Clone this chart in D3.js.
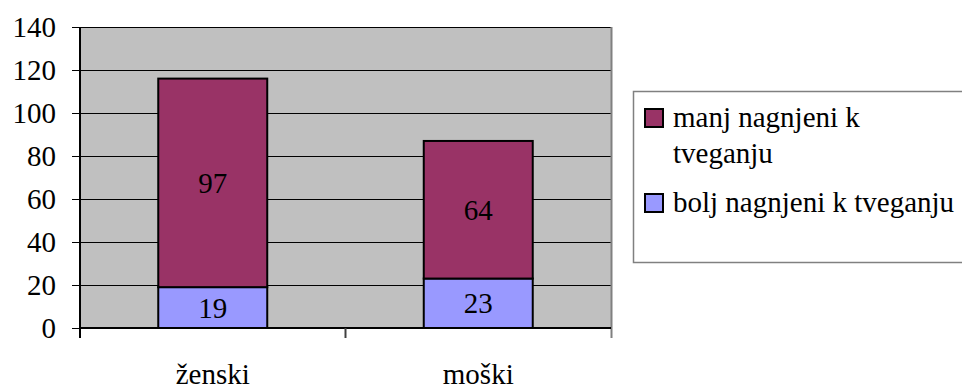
<!DOCTYPE html>
<html>
<head>
<meta charset="utf-8">
<script src="https://cdn.jsdelivr.net/npm/d3@7"></script>
<style>
  html, body { margin: 0; padding: 0; background: #fff; }
  svg { display: block; }
</style>
</head>
<body>
<svg id="chart" width="962" height="390" font-family="Liberation Serif"></svg>
<script>
// Data
const categories = ["ženski", "moški"];
const seriesNames = ["bolj nagnjeni k tveganju", "manj nagnjeni k tveganju"];
const boljValues = [19, 23];
const manjValues = [97, 64];
const yTicks = [0, 20, 40, 60, 80, 100, 120, 140];

const colors = { bolj: "#9999ff", manj: "#993366" };
const fontSize = 29;
const fontFamily = "Liberation Serif";

const svg = d3.select("#chart");

const plot = { left: 80, right: 611, top: 27, bottom: 328 };

const y = d3.scaleLinear().domain([0, 140]).range([plot.bottom, plot.top]);
const x = d3.scaleBand()
  .domain(categories)
  .range([plot.left, plot.right])
  .paddingInner(0.5895)
  .paddingOuter(0.5895 / 2);

function label(sel) {
  return sel
    .attr("font-family", fontFamily)
    .attr("font-size", fontSize)
    .attr("fill", "#000");
}

// Plot background
svg.append("rect")
  .attr("x", plot.left).attr("y", plot.top)
  .attr("width", plot.right - plot.left).attr("height", plot.bottom - plot.top)
  .attr("fill", "#c0c0c0");

// Gridlines
svg.append("g").selectAll("line")
  .data(yTicks.filter(d => d > 0))
  .join("line")
  .attr("x1", plot.left).attr("x2", plot.right)
  .attr("y1", d => Math.round(y(d)) + 0.5).attr("y2", d => Math.round(y(d)) + 0.5)
  .attr("stroke", "#000").attr("stroke-width", 1);

// Right border of plot area
svg.append("line")
  .attr("x1", plot.right + 0.5).attr("x2", plot.right + 0.5)
  .attr("y1", plot.top).attr("y2", plot.bottom + 10)
  .attr("stroke", "#808080").attr("stroke-width", 2);

// Stacked bars
const stackData = categories.map((c, i) => ({ cat: c, bolj: boljValues[i], manj: manjValues[i] }));
const stack = d3.stack().keys(["bolj", "manj"]);
const layers = stack(stackData);

const barG = svg.append("g");
layers.forEach(layer => {
  barG.append("g").selectAll("rect")
    .data(layer)
    .join("rect")
    .attr("x", d => x(d.data.cat))
    .attr("width", x.bandwidth())
    .attr("y", d => y(d[1]))
    .attr("height", d => y(d[0]) - y(d[1]))
    .attr("fill", colors[layer.key])
    .attr("stroke", "#000")
    .attr("stroke-width", 2);

  barG.append("g").selectAll("text")
    .data(layer)
    .join("text")
    .attr("x", d => x(d.data.cat) + x.bandwidth() / 2)
    .attr("y", d => (y(d[0]) + y(d[1])) / 2)
    .attr("dy", "0.35em")
    .attr("text-anchor", "middle")
    .call(label)
    .text(d => d.data[layer.key]);
});

// Y axis
const yAxis = d3.axisLeft(y).tickValues(yTicks).tickSize(8).tickPadding(16);
const yg = svg.append("g").attr("transform", `translate(${plot.left},0)`).call(yAxis);
yg.attr("font-family", fontFamily).attr("font-size", fontSize);
yg.select(".domain").remove();
yg.selectAll(".tick line").attr("stroke", "#000");
yg.selectAll(".tick text").call(label);
svg.append("line")
  .attr("x1", plot.left).attr("x2", plot.left)
  .attr("y1", plot.top).attr("y2", plot.bottom + 10)
  .attr("stroke", "#000").attr("stroke-width", 2);

// X axis baseline and category divider
svg.append("line")
  .attr("x1", plot.left).attr("x2", plot.right)
  .attr("y1", plot.bottom).attr("y2", plot.bottom)
  .attr("stroke", "#000").attr("stroke-width", 2);
svg.append("g").selectAll("line")
  .data([plot.left + x.step()])
  .join("line")
  .attr("x1", d => d).attr("x2", d => d)
  .attr("y1", plot.bottom).attr("y2", plot.bottom + 10)
  .attr("stroke", "#404040").attr("stroke-width", 2);

svg.append("g").selectAll("text")
  .data(categories)
  .join("text")
  .attr("x", d => x(d) + x.bandwidth() / 2)
  .attr("y", 384)
  .attr("text-anchor", "middle")
  .call(label)
  .text(d => d);

// Legend
const legend = svg.append("g");
legend.append("rect")
  .attr("x", 633.5).attr("y", 91.5)
  .attr("width", 340).attr("height", 171)
  .attr("fill", "#fff").attr("stroke", "#808080").attr("stroke-width", 1.5);

const legendItems = [
  { key: "manj", lines: ["manj nagnjeni k", "tveganju"], cy: 118 },
  { key: "bolj", lines: ["bolj nagnjeni k tveganju"], cy: 203 }
];
legendItems.forEach(item => {
  legend.append("rect")
    .attr("x", 645).attr("y", item.cy - 9)
    .attr("width", 18).attr("height", 18)
    .attr("fill", colors[item.key])
    .attr("stroke", "#000").attr("stroke-width", 2);
  const t = legend.append("text")
    .attr("x", 673).attr("y", item.cy + 9)
    .call(label);
  item.lines.forEach((ln, i) => {
    t.append("tspan").attr("x", 673).attr("dy", i === 0 ? 0 : 36).text(ln);
  });
});
</script>
</body>
</html>
